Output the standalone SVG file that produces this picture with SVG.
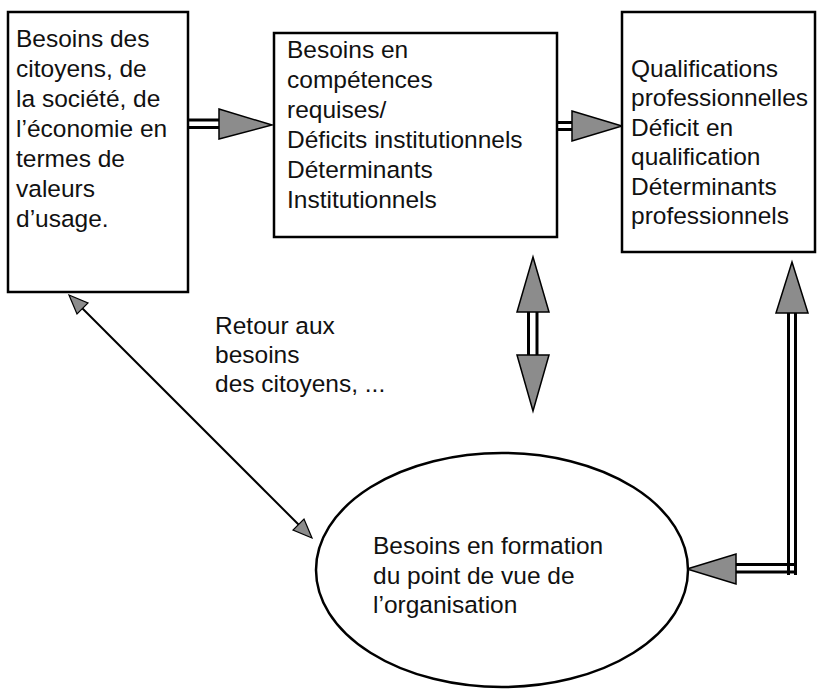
<svg xmlns="http://www.w3.org/2000/svg" width="824" height="689" viewBox="0 0 824 689">
<style>
.box{fill:#fff;stroke:#000;stroke-width:2.5}
.t{font-family:"Liberation Sans",Arial,sans-serif;font-size:24.5px;fill:#111}
.dl{stroke:#000;stroke-width:3;fill:none}
.hd{fill:#8c8c8c;stroke:#000;stroke-width:1.5;stroke-linejoin:miter}
.thin{stroke:#000;stroke-width:2;fill:none}
</style>
<rect width="824" height="689" fill="#fff"/>
<g id="connectors">
  <!-- box1 -> box2 -->
  <line class="dl" x1="189" y1="120" x2="222" y2="120"/>
  <line class="dl" x1="189" y1="127.5" x2="222" y2="127.5"/>
  <polygon class="hd" points="219,109 272,125 219,139"/>
  <!-- box2 -> box3 -->
  <line class="dl" x1="557" y1="122.5" x2="575" y2="122.5"/>
  <line class="dl" x1="557" y1="129.5" x2="575" y2="129.5"/>
  <polygon class="hd" points="572,111 622,126 572,141"/>
  <!-- box2 <-> (vertical double arrow) -->
  <line class="dl" x1="528.5" y1="310" x2="528.5" y2="357"/>
  <line class="dl" x1="537" y1="310" x2="537" y2="357"/>
  <polygon class="hd" points="533,257 549,312 517,312"/>
  <polygon class="hd" points="533,411 549,355 517,355"/>
  <!-- ellipse -> box3 -->
  <line class="dl" x1="788.5" y1="311" x2="788.5" y2="575"/>
  <line class="dl" x1="795.5" y1="311" x2="795.5" y2="575"/>
  <line class="dl" x1="733" y1="564.5" x2="797" y2="564.5"/>
  <line class="dl" x1="733" y1="572" x2="797" y2="572"/>
  <polygon class="hd" points="792,262 808,313 776,313"/>
  <polygon class="hd" points="687,569 736,554 736,584"/>
  <!-- box1 <-> ellipse (thin) -->
  <line class="thin" x1="76" y1="302" x2="305" y2="531"/>
  <polygon class="hd" points="69,295 88,303 77,314" style="stroke-width:1.2"/>
  <polygon class="hd" points="312,538 293,530 304,519" style="stroke-width:1.2"/>
</g>
<g id="node-besoins-citoyens">
  <rect class="box" x="8" y="12" width="180" height="280"/>
  <text class="t" x="16" y="47">Besoins des</text>
  <text class="t" x="16" y="77">citoyens, de</text>
  <text class="t" x="16" y="107">la société, de</text>
  <text class="t" x="16" y="137">l’économie en</text>
  <text class="t" x="16" y="167">termes de</text>
  <text class="t" x="16" y="197">valeurs</text>
  <text class="t" x="16" y="227">d’usage.</text>
</g>
<g id="node-competences">
  <rect class="box" x="274" y="33" width="283" height="204"/>
  <text class="t" x="287" y="58">Besoins en</text>
  <text class="t" x="287" y="88">compétences</text>
  <text class="t" x="287" y="118">requises/</text>
  <text class="t" x="287" y="148">Déficits institutionnels</text>
  <text class="t" x="287" y="178">Déterminants</text>
  <text class="t" x="287" y="208">Institutionnels</text>
</g>
<g id="node-qualifications">
  <rect class="box" x="622" y="12" width="193" height="240"/>
  <text class="t" x="631" y="77">Qualifications</text>
  <text class="t" x="631" y="106">professionnelles</text>
  <text class="t" x="631" y="136">Déficit en</text>
  <text class="t" x="631" y="165">qualification</text>
  <text class="t" x="631" y="195">Déterminants</text>
  <text class="t" x="631" y="224">professionnels</text>
</g>
<g id="label-retour">
  <text class="t" x="215" y="334">Retour aux</text>
  <text class="t" x="215" y="363">besoins</text>
  <text class="t" x="215" y="392">des citoyens, ...</text>
</g>
<g id="node-formation">
  <ellipse cx="502" cy="570" rx="186" ry="117" fill="#fff" stroke="#000" stroke-width="2.5"/>
  <text class="t" x="373" y="554">Besoins en formation</text>
  <text class="t" x="373" y="584">du point de vue de</text>
  <text class="t" x="373" y="613">l’organisation</text>
</g>
</svg>
